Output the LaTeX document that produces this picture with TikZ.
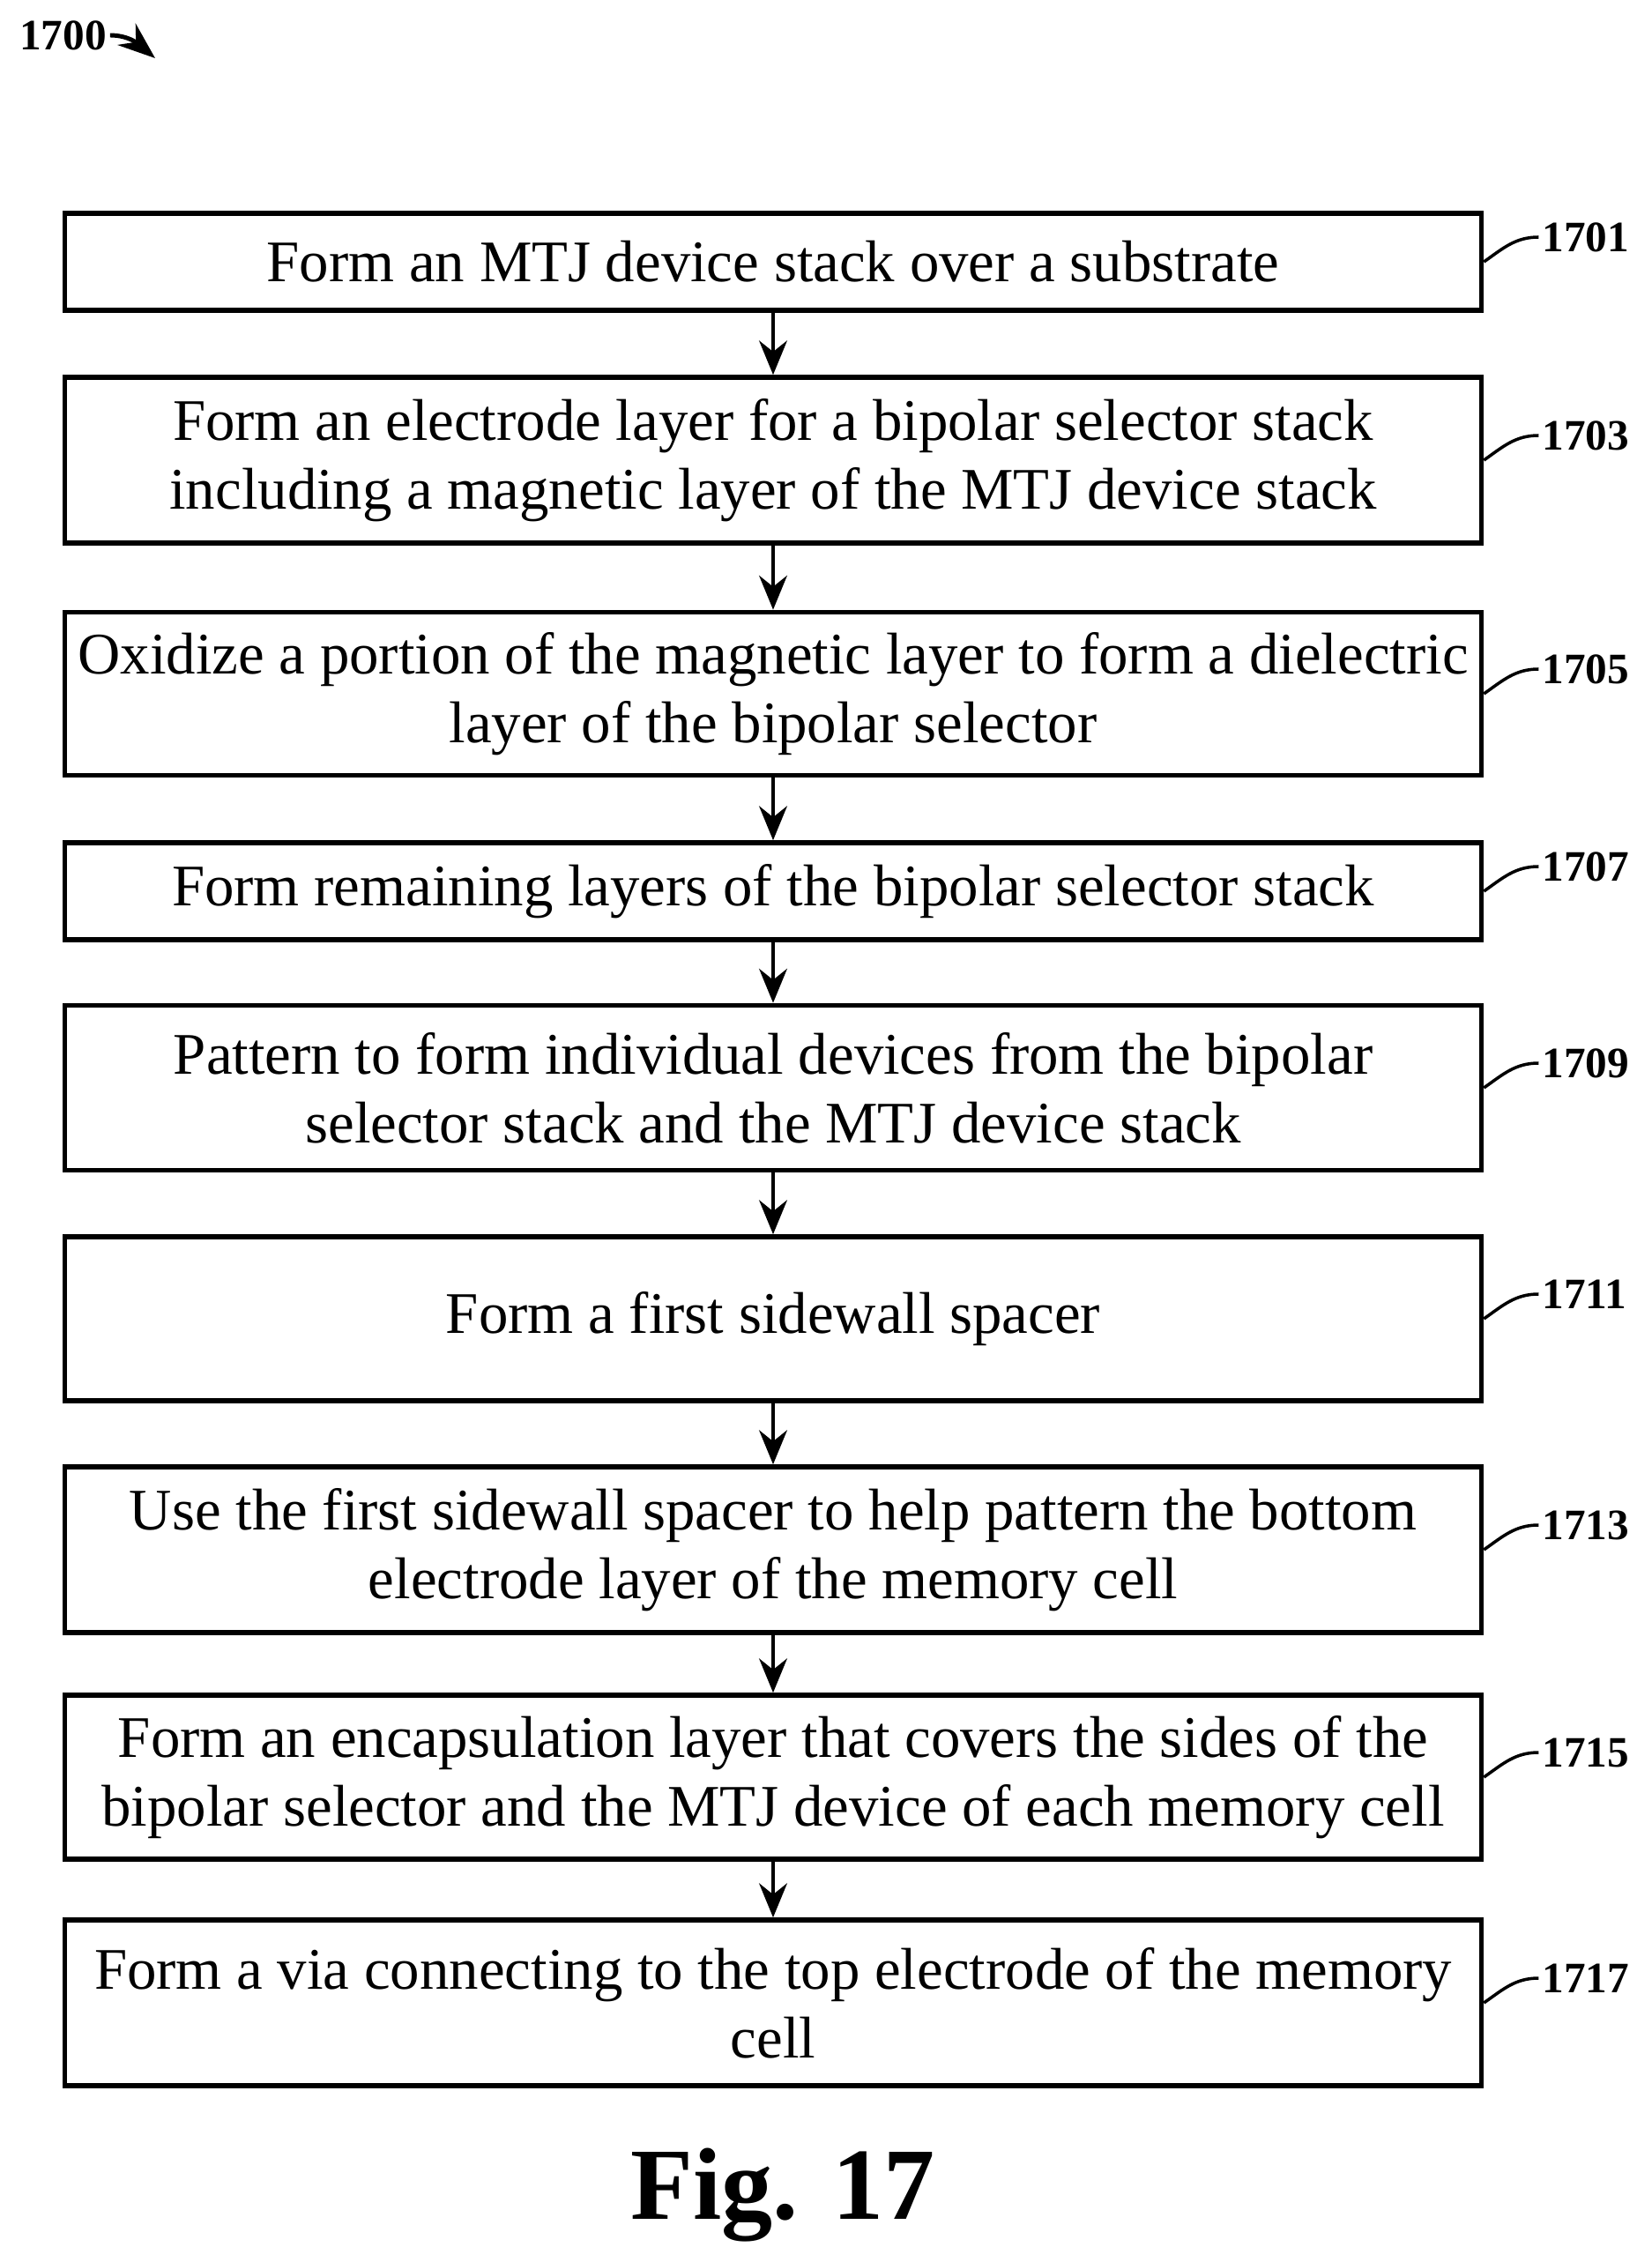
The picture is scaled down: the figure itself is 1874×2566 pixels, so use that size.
\documentclass[tikz,border=0pt]{standalone}
\usepackage{fontspec}
\setmainfont{Liberation Serif}
\usetikzlibrary{arrows.meta,positioning}
\tikzset{
    % process step box
    step/.style={draw, line width=1.6pt, minimum width=16.06cm, minimum height=0.01cm*#1,
        align=center, font=\fontsize{19}{22.2}\selectfont, inner sep=0pt},
    step/.default=110,
    flow/.style={-{Stealth[length=11pt, width=9pt]}, line width=1.4pt},
    ref/.style={font=\fontsize{14}{16}\bfseries\selectfont, anchor=west, inner sep=1pt},
    lead/.style={line width=1pt}
}
\begin{document}
\begin{tikzpicture}[x=0.01cm, y=-0.01cm]
    \useasboundingbox (0,0) rectangle (1874,2566);

    % Figure number
    \node[ref, anchor=west] (fignum) at (18,40) {1700};
    \coordinate (fignumtip) at (176,66);
    \draw[-{Stealth[length=12pt, width=9pt]}, line width=1.4pt] (fignum.east) to[out=0, in=140] (fignumtip);

    % Steps
    \node[step] (s1) at (877,297) {Form an MTJ device stack over a substrate};
    \node[step=188] (s3) at (877,522) {Form an electrode layer for a bipolar selector stack\\including a magnetic layer of the MTJ device stack};
    \node[step=185] (s5) at (877,787) {Oxidize a portion of the magnetic layer to form a dielectric\\layer of the bipolar selector};
    \node[step] (s7) at (877,1011) {Form remaining layers of the bipolar selector stack};
    \node[step=187] (s9) at (877,1234) {Pattern to form individual devices from the bipolar\\selector stack and the MTJ device stack};
    \node[step=186] (s11) at (877,1496) {Form a first sidewall spacer};
    \node[step=188] (s13) at (877,1758) {Use the first sidewall spacer to help pattern the bottom\\electrode layer of the memory cell};
    \node[step=186] (s15) at (877,2016) {Form an encapsulation layer that covers the sides of the\\bipolar selector and the MTJ device of each memory cell};
    \node[step=188] (s17) at (877,2272) {Form a via connecting to the top electrode of the memory\\cell};

    % Connections
    \foreach \a/\b in {s1/s3, s3/s5, s5/s7, s7/s9, s9/s11, s11/s13, s13/s15, s15/s17}
        \draw[flow] (\a.south) -- (\b.north);

    % Reference numerals
    \foreach \s/\n in {s1/1701, s3/1703, s5/1705, s7/1707, s9/1709, s11/1711, s13/1713, s15/1715, s17/1717} {
        \node[ref] (r\n) at ([xshift=0.62cm, yshift=0.28cm]\s.east) {\n};
        \draw[lead] (\s.east) to[out=35, in=180] (r\n.west);
    }

    \node[font=\fontsize{33}{36}\bfseries\selectfont] (fig) at (888,2490) {Fig. 17};
\end{tikzpicture}
\end{document}
